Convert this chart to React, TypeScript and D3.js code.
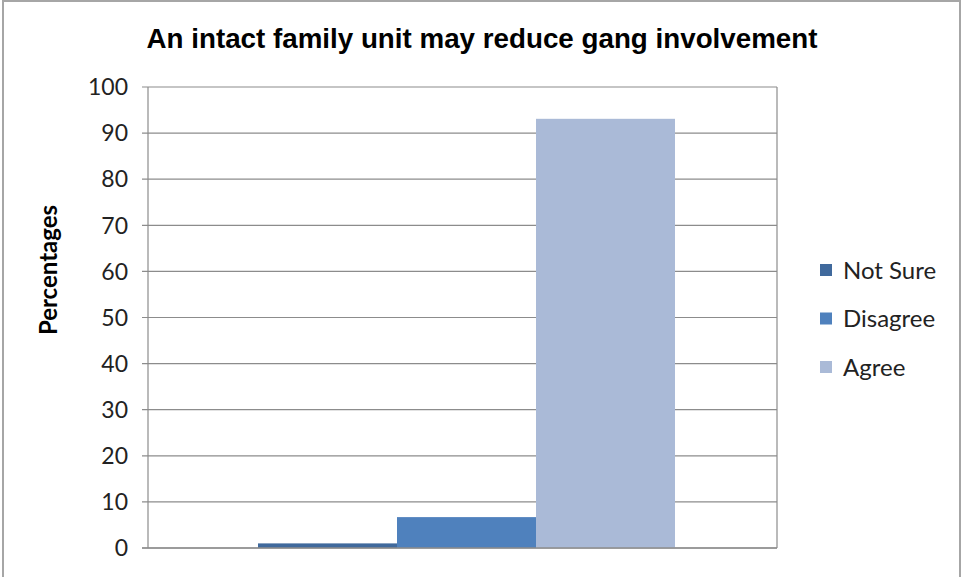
import React from "react";
import * as d3 from "d3";

const categories = ["Not Sure", "Disagree", "Agree"];
const values = [1, 6.7, 93.1];
const colors = ["#40699C", "#4F81BD", "#AABAD7"];
const yTicks = [0, 10, 20, 30, 40, 50, 60, 70, 80, 90, 100];
const title = "An intact family unit may reduce gang involvement";
const yLabel = "Percentages";

export default function App() {
  const W = 963, H = 577;
  const left = 148, right = 777, top = 87, bottom = 548;
  const y = d3.scaleLinear().domain([0, 100]).range([bottom, top]);
  const x = d3.scaleBand().domain(categories).range([258, 675]).padding(0);
  const font = "Lato, 'Open Sans', sans-serif";
  return (
    <div style={{ position: "absolute", left: 0, top: 0 }}>
      <svg width={W} height={H} style={{ display: "block", background: "#fff" }}>
        <rect x={3} y={1} width={957} height={H + 5} fill="#fff" stroke="#A6A6A6" strokeWidth={2} />
        <text x={482} y={48} textAnchor="middle" fontFamily="'Liberation Sans Narrow', 'Liberation Sans', Arial, sans-serif" fontWeight="bold" fontSize={28.5} textLength={671} lengthAdjust="spacingAndGlyphs" fill="#000">{title}</text>
        {yTicks.map((t) => (
          <g key={t}>
            <line x1={left - 6} x2={right} y1={y(t)} y2={y(t)} stroke="#8C8C8C" strokeWidth={1.2} />
            <text x={128} y={y(t)} dy="0.36em" textAnchor="end" fontFamily={font} fontSize={23} fill="#222">{t}</text>
          </g>
        ))}
        <line x1={left} x2={left} y1={top} y2={bottom} stroke="#8C8C8C" strokeWidth={1.2} />
        <line x1={right} x2={right} y1={top} y2={bottom} stroke="#8C8C8C" strokeWidth={1.2} />
        {categories.map((c, i) => (
          <rect key={c} x={x(c)} y={y(values[i])} width={x.bandwidth()} height={bottom - y(values[i])} fill={colors[i]} />
        ))}
        <line x1={left - 6} x2={right} y1={bottom} y2={bottom} stroke="#8C8C8C" strokeWidth={1.5} />
        <text transform={`translate(57,${270}) rotate(-90)`} textAnchor="middle" fontFamily={font} fontWeight="bold" fontSize={24} fill="#000">{yLabel}</text>
        {categories.map((c, i) => (
          <g key={c} transform={`translate(820,${270 + i * 48.5})`}>
            <rect x={0} y={-6} width={12} height={12} fill={colors[i]} />
            <text x={23} y={0} dy="0.36em" fontFamily={font} fontSize={24} fill="#222">{c}</text>
          </g>
        ))}
      </svg>
    </div>
  );
}
